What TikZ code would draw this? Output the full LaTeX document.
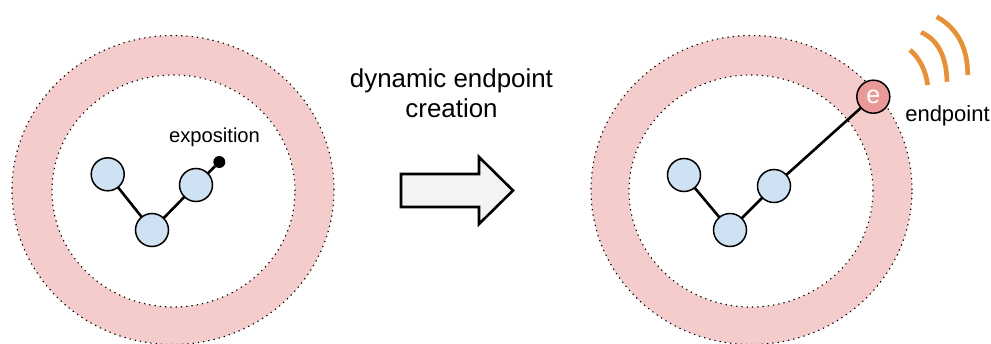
\documentclass[tikz,border=0pt]{standalone}
\usepackage{fontspec}
\setmainfont{Liberation Sans}
\usetikzlibrary{shapes.geometric}
\definecolor{ringpink}{HTML}{F4CCCC}
\definecolor{nodeblue}{HTML}{CFE2F3}
\definecolor{endred}{HTML}{EA9999}
\definecolor{waveorange}{HTML}{E69138}
\definecolor{arrowgrey}{HTML}{F3F3F3}
\tikzset{
  ringshape/.style={ellipse,draw=black,line width=1.1pt,dash pattern=on 1.3pt off 4pt,inner sep=0pt,outer sep=0pt},
  vertex/.style={circle,draw=black,line width=1.5pt,fill=nodeblue,minimum size=33pt,inner sep=0pt,outer sep=0pt},
  endnode/.style={circle,draw=black,line width=1.5pt,fill=endred,minimum size=33pt,inner sep=0pt,outer sep=0pt,text=white,font=\fontsize{25}{25}\selectfont},
  tipdot/.style={circle,fill=black,minimum size=12pt,inner sep=0pt,outer sep=0pt},
  link/.style={line width=2.6pt,black},
  wave/.style={line width=4.7pt,waveorange},
  bigtext/.style={font=\fontsize{25.9}{29.5}\selectfont,align=center,inner sep=0pt},
  smalltext/.style={font=\fontsize{20.2}{24}\selectfont,inner sep=0pt},
  endtext/.style={font=\fontsize{22}{26}\selectfont,inner sep=0pt},
}
\begin{document}
\begin{tikzpicture}[x=1pt,y=-1pt]
\useasboundingbox (0,0) rectangle (991,343);
% left ring
\node[ringshape,fill=ringpink,minimum width=322pt,minimum height=309pt] (lo) at (173,190) {};
\node[ringshape,fill=white,minimum width=243pt,minimum height=232pt] (li) at (173.5,191) {};
% right ring
\node[ringshape,fill=ringpink,minimum width=321pt,minimum height=309pt] (ro) at (751.5,190) {};
\node[ringshape,fill=white,minimum width=244pt,minimum height=232pt] (ri) at (751,191) {};
% left graph
\node[vertex] (a) at (107.7,174.3) {};
\node[vertex] (b) at (152,230) {};
\node[vertex] (c) at (196,185) {};
\node[tipdot] (d) at (219.3,162) {};
\draw[link] (a) -- (b);
\draw[link] (b) -- (c);
\draw[link] (c) -- (d);
\node[smalltext] (expo) at (214.5,137.5) {exposition};
% right graph
\node[vertex] (ra) at (684,175) {};
\node[vertex] (rb) at (730,230) {};
\node[vertex] (rc) at (774,186) {};
\node[endnode] (e) at (873.3,96.7) {e};
\draw[link] (ra) -- (rb);
\draw[link] (rb) -- (rc);
\draw[link] (rc) -- (e);
\node[endtext] (endp) at (947.5,115.5) {endpoint};
% waves
\draw[wave] (910,50) .. controls (919.67,58.33) and (925.57,70) .. (927.7,85);
\draw[wave] (921,32.3) .. controls (937.67,39.43) and (946.33,55.9) .. (947,81.7);
\draw[wave] (936.7,16.7) .. controls (957.4,28.4) and (967.73,47.8) .. (967.7,75);
% arrow
\node[bigtext] (cap) at (451.5,93) {dynamic endpoint\\creation};
\draw[line width=2.6pt,line join=miter,fill=arrowgrey]
  (401,174) -- (479,174) -- (479,157) -- (513,190.5) -- (479,224) -- (479,207) -- (401,207) -- cycle;
\end{tikzpicture}
\end{document}
